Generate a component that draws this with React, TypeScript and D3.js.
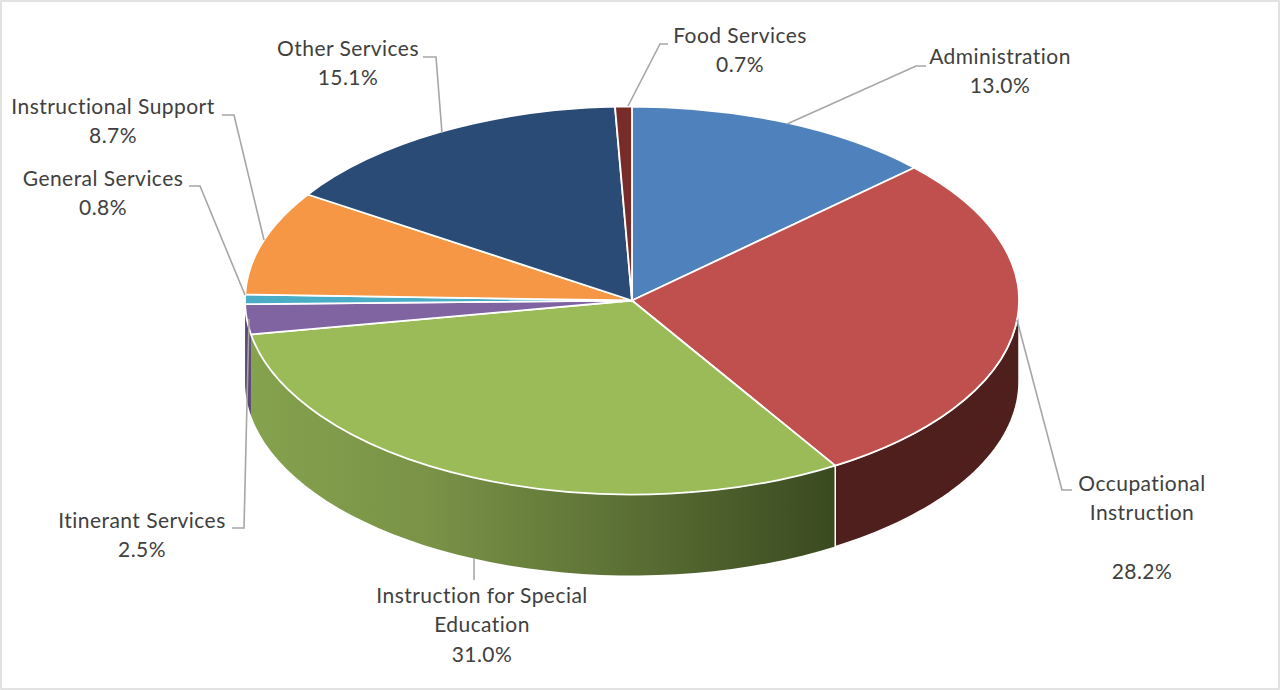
import React from "react";
import * as d3 from "d3";

const categories = ["Administration","Occupational Instruction","Instruction for Special Education","Itinerant Services","General Services","Instructional Support","Other Services","Food Services"];
const values = [13.0,28.2,31.0,2.5,0.8,8.7,15.1,0.7];
const colors = ["#4f81bd","#c0504d","#9bbb59","#8064a2","#4bacc6","#f59745","#2a4b75","#772c2a"];
const depthColors: Record<number,string> = {1:"#4e1f1d",3:"#5c4875"};
const labelLines: string[][] = [["Administration","13.0%"],["Occupational","Instruction","","28.2%"],["Instruction for Special","Education","31.0%"],["Itinerant Services","2.5%"],["General Services","0.8%"],["Instructional Support","8.7%"],["Other Services","15.1%"],["Food Services","0.7%"]];
const labelAnchors: [number,number][] = [[1000,58],[1142,485],[482,597],[142,522],[103,180],[113,108],[348,50],[740,37]];
const leaderLines: [number,number][][] = [
 [[787,124],[916,66],[926,66]],
 [[1017,320],[1062,490],[1072,490]],
 [[474,558],[474,580]],
 [[249,319],[244,528],[232,528]],
 [[245,295],[200,186],[189,186]],
 [[264,240],[234,115],[222,115]],
 [[442,133],[436,57],[423,57]],
 [[628,106],[660,44],[668,44]],
];

const cx=632, cy=300.5, rx=387, ry=194, depth=81;

export default function App(){
  const scale = d3.scaleLinear().domain([0,d3.sum(values)]).range([0,2*Math.PI]);
  const angles = d3.pairs(d3.cumsum([0,...values]).map(v=>scale(v)));
  const pt=(a:number)=>[cx+rx*Math.sin(a),cy-ry*Math.cos(a)];
  const wedge=(a0:number,a1:number)=>{
    const [x0,y0]=pt(a0),[x1,y1]=pt(a1);
    return `M${cx},${cy}L${x0},${y0}A${rx},${ry} 0 ${a1-a0>Math.PI?1:0} 1 ${x1},${y1}Z`;
  };
  const side=(a0:number,a1:number)=>{
    const n=40;
    const pts=d3.range(n+1).map(i=>pt(a0+(a1-a0)*i/n));
    const top=pts.map(p=>`${p[0]},${p[1]}`).join("L");
    const bot=pts.slice().reverse().map(p=>`${p[0]},${p[1]+depth}`).join("L");
    return `M${top}L${bot}Z`;
  };
  const clampSide=(i:number):[number,number]|null=>{
    const [a0,a1]=angles[i];
    const l=Math.max(a0,Math.PI/2),r=Math.min(a1,3*Math.PI/2);
    return r>l?[l,r]:null;
  };
  return (
    <svg width={1280} height={690} style={{position:"absolute",left:0,top:0,background:"#fff",fontFamily:"Lato,'Open Sans',sans-serif"}}>
      <defs>
        <linearGradient id="g2" gradientUnits="userSpaceOnUse" x1={250} x2={835} y1={0} y2={0}>
          <stop offset="0" stopColor="#85a24e"/>
          <stop offset="0.3" stopColor="#7a9347"/>
          <stop offset="0.6" stopColor="#5f7437"/>
          <stop offset="1" stopColor="#3a4a20"/>
        </linearGradient>
      </defs>
      <rect x={1} y={1} width={1278} height={688} fill="#fff" stroke="#d9d9d9" strokeWidth={1.5}/>
      {[3,2,1].map(i=>{const s=clampSide(i); if(!s) return null; return <path key={i} d={side(s[0],s[1])} fill={i===2?"url(#g2)":depthColors[i]} stroke="#fff" strokeWidth={i===1?1.5:0}/>;})}
      {angles.map(([a0,a1],i)=><path key={i} d={wedge(a0,a1)} fill={colors[i]} stroke="#fff" strokeWidth={1.8} strokeLinejoin="round"/>)}
      {leaderLines.map((l,i)=><path key={i} d={d3.line()(l)!} fill="none" stroke="#a6a6a6" strokeWidth={1.6}/>)}
      {labelLines.map((lines,i)=><text key={i} textAnchor="middle" fontSize={21} letterSpacing={0.45} fill="#404040">
        {lines.map((t,j)=><tspan key={j} x={labelAnchors[i][0]} y={labelAnchors[i][1]+6+j*29.3}>{t}</tspan>)}
      </text>)}
    </svg>
  );
}
